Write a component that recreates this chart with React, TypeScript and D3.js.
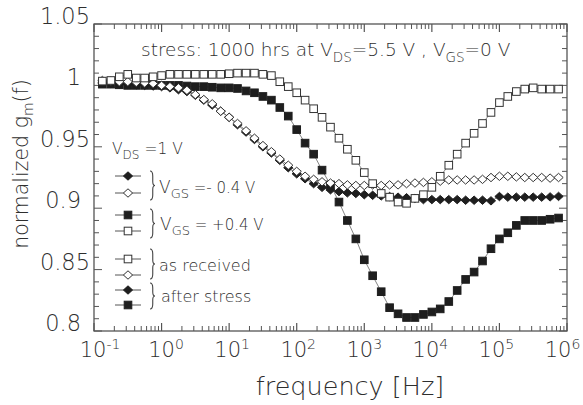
import React from "react";
import * as d3 from "d3";

// measurement frequencies (Hz), ~8 points per decade
const freqs = [
  0.133, 0.178, 0.237, 0.316, 0.422, 0.562, 0.75,
  1, 1.33, 1.78, 2.37, 3.16, 4.22, 5.62, 7.5,
  10, 13.3, 17.8, 23.7, 31.6, 42.2, 56.2, 75,
  100, 133, 178, 237, 316, 422, 562, 750,
  1000, 1330, 1780, 2370, 3160, 4220, 5620, 7500,
  10000, 13300, 17800, 23700, 31600, 42200, 56200, 75000,
  100000, 133000, 178000, 237000, 316000, 422000, 562000, 750000,
];

// VGS = +0.4 V, as received (open squares)
const asReceivedPos = [
  1.0035, 1.004, 1.007, 1.009, 1.006, 1.006, 1.007,
  1.008, 1.009, 1.009, 1.009, 1.009, 1.009, 1.009, 1.009,
  1.0095, 1.01, 1.01, 1.01, 1.009, 1.008, 1.003, 0.999,
  0.994, 0.988, 0.981, 0.974, 0.966, 0.957, 0.948, 0.939,
  0.929, 0.92, 0.912, 0.909, 0.905, 0.904, 0.908, 0.911,
  0.917, 0.926, 0.935, 0.944, 0.953, 0.961, 0.969, 0.978,
  0.986, 0.991, 0.995, 0.997, 0.998, 0.997, 0.997, 0.997,
];

// VGS = +0.4 V, after stress (filled squares)
const afterStressPos = [
  1.001, 1.001, 1.0005, 1.0, 1.0, 1.0, 1.0,
  1.0, 1.0, 1.0, 0.9995, 0.999, 0.999, 0.9985, 0.998,
  0.998, 0.9975, 0.9955, 0.994, 0.991, 0.988, 0.982, 0.975,
  0.964, 0.953, 0.944, 0.931, 0.919, 0.905, 0.89, 0.875,
  0.858, 0.845, 0.832, 0.819, 0.814, 0.811, 0.811, 0.8135,
  0.8155, 0.818, 0.824, 0.833, 0.842, 0.848, 0.857, 0.867,
  0.875, 0.88, 0.886, 0.89, 0.89, 0.89, 0.891, 0.892,
];

// VGS = -0.4 V, as received (open diamonds)
const asReceivedNeg = [
  1.004, 1.0035, 1.003, 1.003, 1.0025, 1.002, 1.0015,
  1.0, 0.999, 0.998, 0.996, 0.9925, 0.9885, 0.985, 0.979,
  0.974, 0.969, 0.963, 0.957, 0.951, 0.946, 0.94, 0.935,
  0.93, 0.926, 0.9235, 0.9215, 0.9205, 0.92, 0.919, 0.9185,
  0.9185, 0.919, 0.9185, 0.919, 0.919, 0.92, 0.9205, 0.921,
  0.9215, 0.922, 0.923, 0.923, 0.923, 0.923, 0.9235, 0.925,
  0.926, 0.926, 0.9255, 0.925, 0.925, 0.925, 0.9245, 0.925,
];

// VGS = -0.4 V, after stress (filled diamonds)
const afterStressNeg = [
  1.002, 1.0015, 1.001, 1.001, 1.0005, 1.0, 0.9995,
  0.999, 0.998, 0.9965, 0.995, 0.992, 0.988, 0.984, 0.979,
  0.974, 0.968, 0.962, 0.956, 0.95, 0.945, 0.939, 0.933,
  0.928, 0.924, 0.92, 0.917, 0.915, 0.9135, 0.9125, 0.912,
  0.911, 0.9105, 0.91, 0.9095, 0.909, 0.9085, 0.908, 0.907,
  0.907, 0.907, 0.907, 0.907, 0.9065, 0.9065, 0.9065, 0.906,
  0.9095, 0.909, 0.909, 0.909, 0.909, 0.909, 0.9092, 0.9096,
];

const yTickValues = [0.8, 0.85, 0.9, 0.95, 1.0, 1.05];
const yTickLabels = ["0.8", "0.85", "0.9", "0.95", "1", "1.05"];
const xDecades = [-1, 0, 1, 2, 3, 4, 5, 6];

const FONT = "'DejaVu Sans', sans-serif";
const TXT = "#2e2e2e";
const AX = "#555";

const L = 94, R = 567, T = 24, B = 331;

const x = d3.scaleLog().domain([0.1, 1e6]).range([L, R]);
const y = d3.scaleLinear().domain([0.8, 1.05]).range([B, T]);

type Kind = "openSq" | "fillSq" | "openDi" | "fillDi";

function Marker({ kind, cx, cy }: { kind: Kind; cx: number; cy: number }) {
  if (kind === "openSq" || kind === "fillSq") {
    const s = 7.6;
    return (
      <rect
        x={cx - s / 2}
        y={cy - s / 2}
        width={s}
        height={s}
        fill={kind === "fillSq" ? "#1e1e1e" : "#fff"}
        stroke={kind === "fillSq" ? "#1e1e1e" : "#333"}
        strokeWidth={1}
      />
    );
  }
  const w = 4.6, h = 4.2;
  return (
    <path
      d={`M${cx},${cy - h} L${cx + w},${cy} L${cx},${cy + h} L${cx - w},${cy} Z`}
      fill={kind === "fillDi" ? "#1e1e1e" : "#fff"}
      stroke={kind === "fillDi" ? "#1e1e1e" : "#333"}
      strokeWidth={1}
    />
  );
}

function bracePath(x0: number, y1: number, y2: number) {
  const w = 5;
  const ym = (y1 + y2) / 2;
  const xm = x0 + w * 0.55;
  return `M${x0},${y1} Q${xm},${y1} ${xm},${y1 + 5} L${xm},${ym - 4} Q${xm},${ym} ${x0 + w},${ym} Q${xm},${ym} ${xm},${ym + 4} L${xm},${y2 - 5} Q${xm},${y2} ${x0},${y2}`;
}

export default function App() {
  const series: { kind: Kind; vals: number[] }[] = [
    { kind: "fillSq", vals: afterStressPos },
    { kind: "fillDi", vals: afterStressNeg },
    { kind: "openDi", vals: asReceivedNeg },
    { kind: "openSq", vals: asReceivedPos },
  ];
  const line = d3
    .line<number>()
    .x((_, i) => x(freqs[i]))
    .y((d) => y(d));

  const yMinor = d3.range(0, 26).map((i) => 0.8 + i * 0.01);
  const xMinor: number[] = [];
  for (let d = -1; d < 6; d++) for (let k = 2; k <= 9; k++) xMinor.push(k * Math.pow(10, d));

  const legendRows: { kind: Kind; yy: number }[] = [
    { kind: "fillDi", yy: 176 },
    { kind: "openDi", yy: 193 },
    { kind: "fillSq", yy: 215 },
    { kind: "openSq", yy: 231 },
    { kind: "openSq", yy: 259 },
    { kind: "openDi", yy: 275 },
    { kind: "fillDi", yy: 290 },
    { kind: "fillSq", yy: 305 },
  ];

  return (
    <svg
      width={583}
      height={405}
      style={{ position: "absolute", left: 0, top: 0, background: "#fff" }}
      fontFamily={FONT}
      fontWeight={300}
    >
      <rect x={0} y={0} width={583} height={405} fill="#fff" />
      {/* frame */}
      <rect x={L} y={T} width={R - L} height={B - T} fill="none" stroke={AX} strokeWidth={1.3} />

      {/* y ticks (inward, both sides) */}
      {yMinor.map((v, i) => {
        const major = i % 5 === 0;
        const len = major ? 8 : 5;
        return (
          <g key={"yt" + i} stroke={AX} strokeWidth={1}>
            <line x1={L} x2={L + len} y1={y(v)} y2={y(v)} />
            <line x1={R} x2={R - len} y1={y(v)} y2={y(v)} />
          </g>
        );
      })}
      {/* x ticks */}
      {xMinor.map((f, i) => (
        <g key={"xm" + i} stroke={AX} strokeWidth={1}>
          <line x1={x(f)} x2={x(f)} y1={B} y2={B - 5} />
          <line x1={x(f)} x2={x(f)} y1={T} y2={T + 5} />
        </g>
      ))}
      {xDecades.map((d) => (
        <g key={"xd" + d} stroke={AX} strokeWidth={1.2}>
          <line x1={x(Math.pow(10, d))} x2={x(Math.pow(10, d))} y1={B} y2={B - 8} />
          <line x1={x(Math.pow(10, d))} x2={x(Math.pow(10, d))} y1={T} y2={T + 8} />
        </g>
      ))}

      {/* y tick labels */}
      {yTickValues.map((v, i) => (
        <text
          key={"yl" + i}
          x={yTickLabels[i].length > 3 ? 90 : 81}
          y={y(v)}
          textAnchor="end"
          fontSize={22.5}
          fill={TXT}
        >
          {yTickLabels[i]}
        </text>
      ))}
      {/* x tick labels */}
      {xDecades.map((d) => (
        <text
          key={"xl" + d}
          x={x(Math.pow(10, d)) + 6 - 1.5 * (d + 1)}
          y={357}
          textAnchor="middle"
          fontSize={21}
          fill={TXT}
        >
          10
          <tspan fontSize={14} dy={-8}>
            {String(d)}
          </tspan>
        </text>
      ))}

      {/* axis titles */}
      <text x={350} y={395} textAnchor="middle" fontSize={25.5} fill={TXT}>
        frequency [Hz]
      </text>
      <text transform="translate(28,164) rotate(-90)" textAnchor="middle" fontSize={20.5} fill={TXT}>
        normalized g
        <tspan fontSize={14} dy={5}>m</tspan>
        <tspan dy={-5}>(f)</tspan>
      </text>

      {/* annotation */}
      <text x={141} y={56} fontSize={18.5} fill={TXT}>
        stress: 1000 hrs at V
        <tspan fontSize={13.5} dy={6}>DS</tspan>
        <tspan dy={-6}>=5.5 V , V</tspan>
        <tspan fontSize={13.5} dy={6}>GS</tspan>
        <tspan dy={-6}>=0 V</tspan>
      </text>

      {/* series lines */}
      {series.map((s, i) => (
        <path key={"ln" + i} d={line(s.vals) || ""} fill="none" stroke="#666" strokeWidth={0.8} />
      ))}
      {/* series markers */}
      {series.map((s, i) => (
        <g key={"mk" + i}>
          {s.vals.map((v, j) => (
            <Marker key={j} kind={s.kind} cx={x(freqs[j])} cy={y(v)} />
          ))}
        </g>
      ))}

      {/* legend */}
      <text x={112} y={154} fontSize={15.5} fill={TXT}>
        V
        <tspan fontSize={12} dy={5}>DS</tspan>
        <tspan dy={-5}> =1 V</tspan>
      </text>
      {legendRows.map((r, i) => (
        <g key={"lg" + i}>
          <line x1={115} x2={141} y1={r.yy} y2={r.yy} stroke="#555" strokeWidth={1} />
          <Marker kind={r.kind} cx={128} cy={r.yy} />
        </g>
      ))}
      {[
        [171, 200],
        [209, 238],
        [249, 279],
        [283, 309],
      ].map(([a, b], i) => (
        <path key={"br" + i} d={bracePath(150, a, b)} fill="none" stroke="#444" strokeWidth={1.1} />
      ))}
      <text x={159} y={193} fontSize={17} fill={TXT}>
        V
        <tspan fontSize={13} dy={5}>GS</tspan>
        <tspan dy={-5} fontSize={15}> =- 0.4 V</tspan>
      </text>
      <text x={160} y={230} fontSize={17} fill={TXT}>
        V
        <tspan fontSize={13} dy={5}>GS</tspan>
        <tspan dy={-5} fontSize={15}> = +0.4 V</tspan>
      </text>
      <text x={159} y={271} fontSize={16} fill={TXT}>
        as received
      </text>
      <text x={161} y={302} fontSize={16} fill={TXT}>
        after stress
      </text>
    </svg>
  );
}
